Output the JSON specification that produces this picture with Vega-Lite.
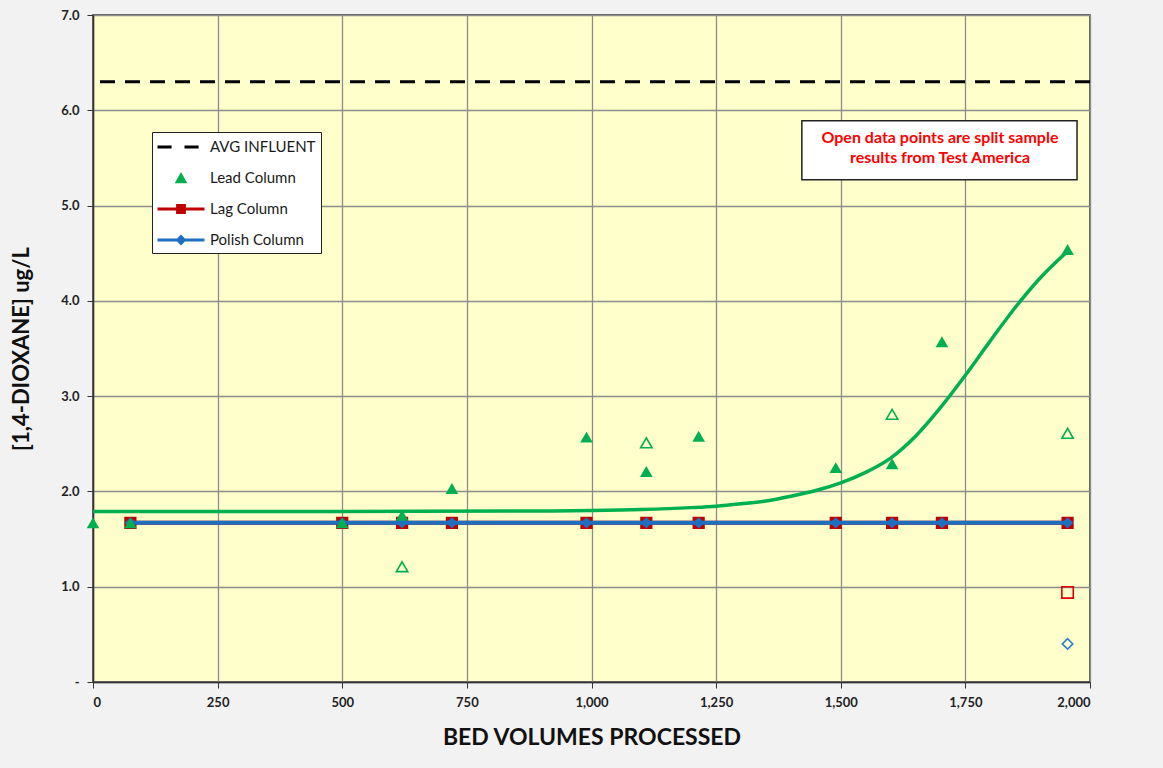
{
  "$schema": "https://vega.github.io/schema/vega-lite/v6.json",
  "autosize": {"type": "none"},
  "width": 997,
  "height": 667,
  "padding": {"left": 93, "top": 15, "right": 73, "bottom": 86},
  "background": "#f2f2f2",
  "datasets": {
    "influent": [{"conc": 6.3}],
    "lead": [
      {"bv": 0, "conc": 1.67},
      {"bv": 75, "conc": 1.67},
      {"bv": 500, "conc": 1.67},
      {"bv": 620, "conc": 1.75},
      {"bv": 720, "conc": 2.03},
      {"bv": 990, "conc": 2.57},
      {"bv": 1110, "conc": 2.21},
      {"bv": 1215, "conc": 2.58},
      {"bv": 1490, "conc": 2.25},
      {"bv": 1603, "conc": 2.29},
      {"bv": 1703, "conc": 3.57},
      {"bv": 1955, "conc": 4.54}
    ],
    "lead_split": [
      {"bv": 620, "conc": 1.21},
      {"bv": 1110, "conc": 2.51},
      {"bv": 1603, "conc": 2.81},
      {"bv": 1955, "conc": 2.61}
    ],
    "lag": [
      {"bv": 75, "conc": 1.67},
      {"bv": 500, "conc": 1.67},
      {"bv": 620, "conc": 1.67},
      {"bv": 720, "conc": 1.67},
      {"bv": 990, "conc": 1.67},
      {"bv": 1110, "conc": 1.67},
      {"bv": 1215, "conc": 1.67},
      {"bv": 1490, "conc": 1.67},
      {"bv": 1603, "conc": 1.67},
      {"bv": 1703, "conc": 1.67},
      {"bv": 1955, "conc": 1.67}
    ],
    "lag_split": [{"bv": 1955, "conc": 0.94}],
    "polish": [
      {"bv": 75, "conc": 1.67},
      {"bv": 500, "conc": 1.67},
      {"bv": 620, "conc": 1.67},
      {"bv": 720, "conc": 1.67},
      {"bv": 990, "conc": 1.67},
      {"bv": 1110, "conc": 1.67},
      {"bv": 1215, "conc": 1.67},
      {"bv": 1490, "conc": 1.67},
      {"bv": 1603, "conc": 1.67},
      {"bv": 1703, "conc": 1.67},
      {"bv": 1955, "conc": 1.67}
    ],
    "polish_split": [{"bv": 1955, "conc": 0.4}],
    "lead_trend": [
      {"bv": 0, "conc": 1.79},
      {"bv": 500, "conc": 1.79},
      {"bv": 900, "conc": 1.795},
      {"bv": 1000, "conc": 1.8},
      {"bv": 1100, "conc": 1.81},
      {"bv": 1200, "conc": 1.83},
      {"bv": 1250, "conc": 1.845},
      {"bv": 1300, "conc": 1.87},
      {"bv": 1350, "conc": 1.9},
      {"bv": 1400, "conc": 1.95},
      {"bv": 1450, "conc": 2.01},
      {"bv": 1500, "conc": 2.09},
      {"bv": 1550, "conc": 2.2},
      {"bv": 1600, "conc": 2.35},
      {"bv": 1650, "conc": 2.58},
      {"bv": 1700, "conc": 2.88},
      {"bv": 1750, "conc": 3.22},
      {"bv": 1800, "conc": 3.58},
      {"bv": 1850, "conc": 3.93},
      {"bv": 1900, "conc": 4.24},
      {"bv": 1955, "conc": 4.52}
    ],
    "note": [
      {"x1": 1422, "x2": 1974, "y1": 5.27, "y2": 5.89, "xc": 1699, "yc": 5.71,
       "text": ["Open data points are split sample", "results from Test America"]}
    ]
  },
  "config": {
    "font": "Lato",
    "view": {"fill": "#ffffcc", "stroke": "#333333", "strokeWidth": 1.5},
    "axis": {
      "gridColor": "#8c8c8c",
      "gridWidth": 1.3,
      "gridOpacity": 1,
      "domainColor": "#333333",
      "domainWidth": 1.5,
      "tickColor": "#333333",
      "tickSize": 6,
      "labelFont": "Lato",
      "labelFontWeight": "bold",
      "labelFontSize": 13,
      "labelColor": "#222222",
      "titleFont": "Lato",
      "titleFontWeight": "bold",
      "titleColor": "#111111"
    }
  },
  "layer": [
    {
      "data": {"name": "influent"},
      "mark": {"type": "rule", "strokeDash": [15, 10], "strokeWidth": 3},
      "encoding": {
        "y": {
          "field": "conc",
          "type": "quantitative",
          "scale": {"domain": [0, 7], "nice": false, "zero": true},
          "axis": {
            "title": "[1,4-DIOXANE] ug/L",
            "titleFontSize": 22,
            "titlePadding": 27,
            "values": [0, 1, 2, 3, 4, 5, 6, 7],
            "labelPadding": 8,
            "labelExpr": "datum.value == 0 ? '-' : format(datum.value, '.1f')"
          }
        },
        "color": {
          "datum": "AVG INFLUENT",
          "scale": {
            "domain": ["AVG INFLUENT", "Lead Column", "Lag Column", "Polish Column"],
            "range": ["#000000", "#00b050", "#c00000", "#1f6fc0"]
          },
          "legend": {
            "title": null,
            "orient": "none",
            "legendX": 59,
            "legendY": 117,
            "direction": "vertical",
            "fillColor": "#ffffff",
            "strokeColor": "#222222",
            "padding": 5,
            "rowPadding": 13,
            "labelFont": "Lato",
            "labelFontSize": 15,
            "labelColor": "#1a1a1a",
            "labelOffset": 19,
            "symbolSize": 400,
            "symbolOffset": 14,
            "symbolStrokeWidth": 0,
            "encode": {
              "symbols": {
                "update": {
                  "shape": {"signal": "datum.value == 'AVG INFLUENT' ? 'M-2.35,-0.15H-0.94V0.15H-2.35Z M0.35,-0.15H1.76V0.15H0.35Z' : datum.value == 'Lead Column' ? 'M-0.63,0.52L0,-0.59L0.63,0.52Z' : datum.value == 'Lag Column' ? 'M-2.35,-0.16H2.35V0.16H-2.35Z M-0.49,-0.49H0.49V0.49H-0.49Z' : 'M-2.35,-0.16H2.35V0.16H-2.35Z M0,-0.54L0.54,0L0,0.54L-0.54,0Z'"},
                  "fill": {"scale": "color", "field": "value"},
                  "stroke": {"value": "transparent"},
                  "opacity": {"value": 1}
                }
              }
            }
          }
        }
      }
    },
    {
      "data": {"name": "lead_trend"},
      "mark": {"type": "line", "interpolate": "monotone", "color": "#00b050", "strokeWidth": 3.5},
      "encoding": {
        "x": {
          "field": "bv",
          "type": "quantitative",
          "scale": {"domain": [0, 2000], "nice": false},
          "axis": {
            "title": "BED VOLUMES PROCESSED",
            "titleFontSize": 23,
            "titlePadding": 17,
            "values": [0, 250, 500, 750, 1000, 1250, 1500, 1750, 2000],
            "labelExpr": "format(datum.value, ',')",
            "labelPadding": 8
          }
        },
        "y": {"field": "conc", "type": "quantitative"}
      }
    },
    {
      "data": {"name": "lag"},
      "mark": {"type": "line", "color": "#c00000", "strokeWidth": 4},
      "encoding": {
        "x": {"field": "bv", "type": "quantitative"},
        "y": {"field": "conc", "type": "quantitative"}
      }
    },
    {
      "data": {"name": "lag"},
      "mark": {"type": "point", "shape": "square", "filled": true, "size": 150, "opacity": 1},
      "encoding": {
        "x": {"field": "bv", "type": "quantitative"},
        "y": {"field": "conc", "type": "quantitative"},
        "color": {"datum": "Lag Column"}
      }
    },
    {
      "data": {"name": "polish"},
      "mark": {"type": "line", "color": "#1f6fc0", "strokeWidth": 4},
      "encoding": {
        "x": {"field": "bv", "type": "quantitative"},
        "y": {"field": "conc", "type": "quantitative"}
      }
    },
    {
      "data": {"name": "polish"},
      "mark": {"type": "point", "shape": "diamond", "filled": true, "size": 130, "opacity": 1},
      "encoding": {
        "x": {"field": "bv", "type": "quantitative"},
        "y": {"field": "conc", "type": "quantitative"},
        "color": {"datum": "Polish Column"}
      }
    },
    {
      "data": {"name": "lead"},
      "mark": {"type": "point", "shape": "triangle-up", "filled": true, "size": 160, "opacity": 1},
      "encoding": {
        "x": {"field": "bv", "type": "quantitative"},
        "y": {"field": "conc", "type": "quantitative"},
        "color": {"datum": "Lead Column"}
      }
    },
    {
      "data": {"name": "lead_split"},
      "mark": {"type": "point", "shape": "triangle-up", "filled": false, "size": 130, "stroke": "#00b050", "strokeWidth": 1.6, "opacity": 1},
      "encoding": {
        "x": {"field": "bv", "type": "quantitative"},
        "y": {"field": "conc", "type": "quantitative"}
      }
    },
    {
      "data": {"name": "lag_split"},
      "mark": {"type": "point", "shape": "square", "filled": false, "size": 130, "stroke": "#e00000", "strokeWidth": 1.6, "opacity": 1},
      "encoding": {
        "x": {"field": "bv", "type": "quantitative"},
        "y": {"field": "conc", "type": "quantitative"}
      }
    },
    {
      "data": {"name": "polish_split"},
      "mark": {"type": "point", "shape": "diamond", "filled": false, "size": 110, "stroke": "#2f7fd0", "strokeWidth": 1.6, "opacity": 1},
      "encoding": {
        "x": {"field": "bv", "type": "quantitative"},
        "y": {"field": "conc", "type": "quantitative"}
      }
    },
    {
      "data": {"name": "note"},
      "mark": {"type": "rect", "fill": "#ffffff", "stroke": "#222222", "strokeWidth": 1.5},
      "encoding": {
        "x": {"field": "x1", "type": "quantitative"},
        "x2": {"field": "x2"},
        "y": {"field": "y1", "type": "quantitative"},
        "y2": {"field": "y2"}
      }
    },
    {
      "data": {"name": "note"},
      "mark": {"type": "text", "align": "center", "baseline": "middle", "font": "Lato", "fontWeight": "bold", "fontSize": 16, "color": "#ff0000", "lineHeight": 20},
      "encoding": {
        "x": {"field": "xc", "type": "quantitative"},
        "y": {"field": "yc", "type": "quantitative"},
        "text": {"field": "text"}
      }
    }
  ]
}
